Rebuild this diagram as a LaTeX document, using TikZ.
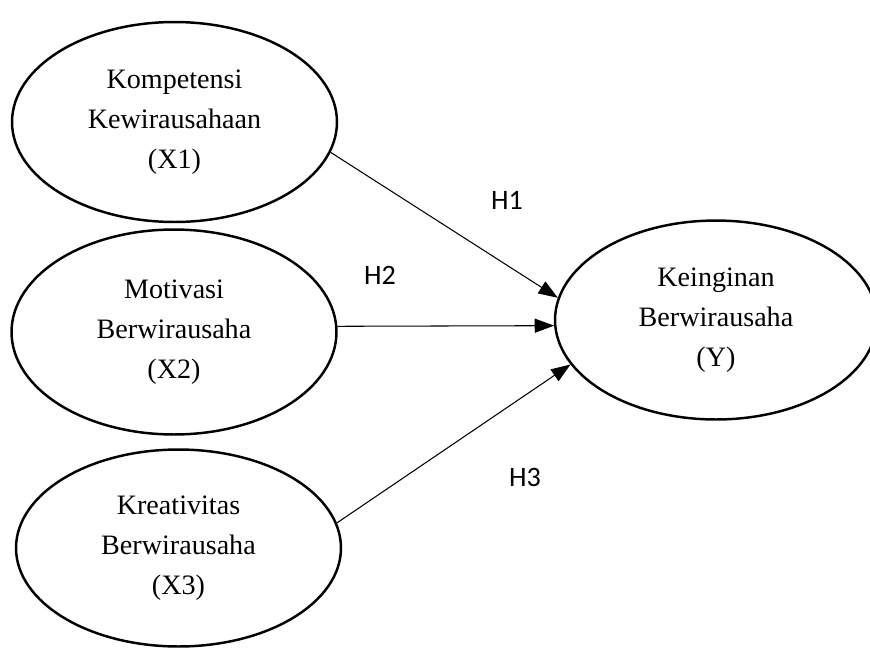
\documentclass[tikz,border=0pt]{standalone}
\usepackage{fontspec}
\setmainfont{Liberation Serif}
\newfontfamily\hfont{Carlito}
\usetikzlibrary{shapes.geometric, arrows.meta}
\tikzset{
  variabel/.style={
    ellipse, draw=black, line width=1.4pt, inner sep=0pt,
    minimum width=6.5cm, minimum height=4cm,
    text centered, align=center, font=\fontsize{16}{22.7}\selectfont
  },
  hipotesis/.style={
    font=\hfont\fontsize{16}{19}\selectfont
  },
  arrow/.style={
    -{Triangle[length=11pt,width=8pt]}, line width=0.6pt, color=black
  }
}

\begin{document}
\begin{tikzpicture}[x=0.02cm, y=-0.02cm]
      % Frame
      \clip (0,0) rectangle (870,650);

      % Independent variables
      \node[variabel] (x1) at (174.5,122) {Kompetensi\\Kewirausahaan\\(X1)};
      \node[variabel, minimum height=4.1cm] (x2) at (174,332) {Motivasi\\Berwirausaha\\(X2)};
      \node[variabel, minimum height=3.94cm] (x3) at (178.5,548) {Kreativitas\\Berwirausaha\\(X3)};

      % Dependent variable
      \node[variabel, minimum width=6.44cm, minimum height=3.98cm] (y) at (716,320) {Keinginan\\Berwirausaha\\(Y)};

      % Paths
      \draw[arrow] (x1.-11) -- (y.172);
      \draw[arrow] (x2.2) -- (y.182);
      \draw[arrow] (x3.9) -- (y.197);

      % Hypotheses
      \node[hipotesis] (h1) at (507,200) {H1};
      \node[hipotesis] (h2) at (380,275) {H2};
      \node[hipotesis] (h3) at (525,477) {H3};
    \end{tikzpicture}
\end{document}
